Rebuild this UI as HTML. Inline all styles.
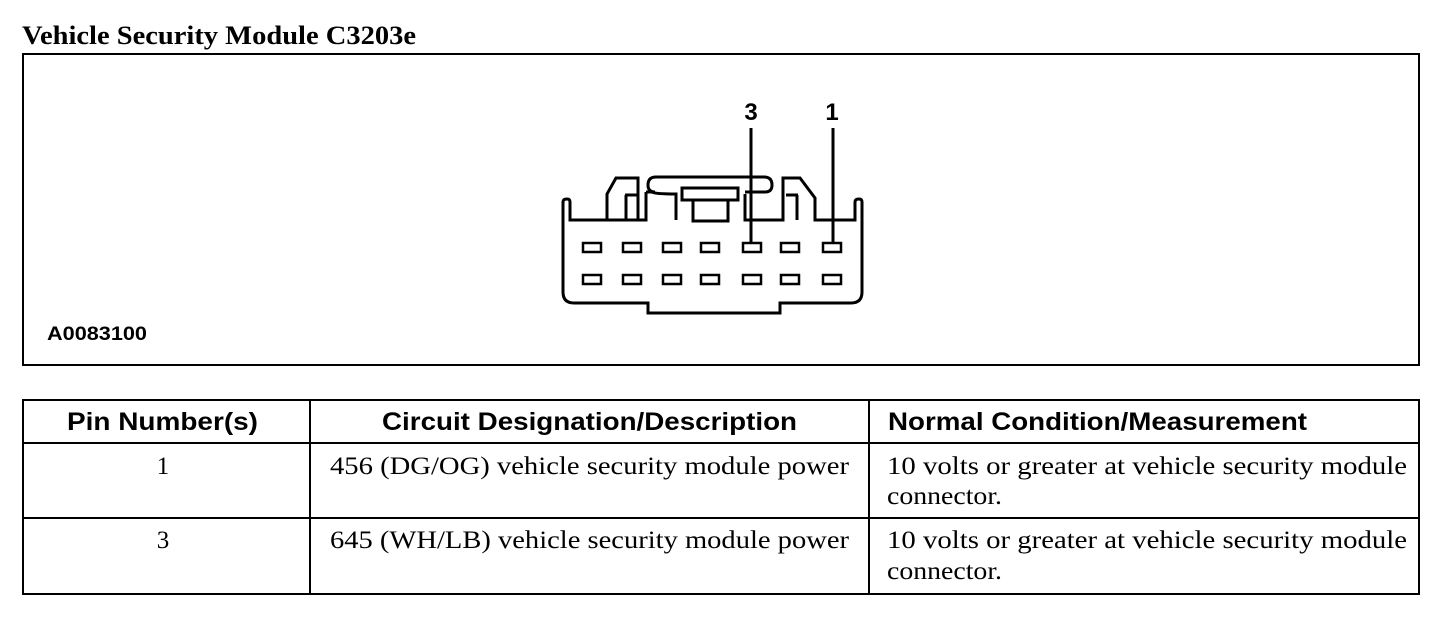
<!DOCTYPE html>
<html><head><style>
html,body{margin:0;padding:0;background:#fff;}
body{width:1456px;height:618px;overflow:hidden;position:relative;}
</style></head><body>
<svg width="1456" height="618" viewBox="0 0 1456 618" xmlns="http://www.w3.org/2000/svg" style="position:absolute;left:0;top:0">
<text x="22" y="44" font-family="Liberation Serif, serif" font-weight="bold" font-size="26" textLength="394" lengthAdjust="spacingAndGlyphs">Vehicle Security Module C3203e</text>
<rect x="23" y="54" width="1396" height="311" fill="none" stroke="#000" stroke-width="2"/>
<text x="47" y="340" font-family="Liberation Sans, sans-serif" font-weight="bold" font-size="19" textLength="100" lengthAdjust="spacingAndGlyphs">A0083100</text>
<g fill="none" stroke="#000" stroke-width="3">
<path d="M563,202 Q563,199 567,199 Q570,199 570,202 L570,220 L607,220 L607,194 L616,178 L638,178 L638,220 L646,220 L646,192"/>
<path d="M646,192 L655,192 Q648,192 648,185 Q648,177 656,177 L764,177 Q772,177 772,185 Q772,192 765,192 L745,192"/>
<path d="M652,192 Q655,194 676,194 L676,220"/>
<path d="M745,194 L745,220 L783,220 L783,178 L800,178 L815,198 L815,220 L855,220 L855,202 Q855,199 859,199 Q862,199 862,202 L862,292 Q862,303 851,303 L780,303 L780,313 L648,313 L648,303 L574,303 Q563,303 563,292 L563,202"/>
<line x1="625" y1="195" x2="637" y2="195"/><line x1="626" y1="195" x2="626" y2="220"/>
<line x1="786" y1="195" x2="798" y2="195"/><line x1="797" y1="195" x2="797" y2="220"/>
<rect x="682" y="188" width="56" height="12"/>
<rect x="693" y="200" width="35" height="21"/>
<line x1="608" y1="220" x2="646" y2="220"/>
</g>
<g fill="none" stroke="#000" stroke-width="2.5">
<rect x="583" y="243" width="18" height="9"/><rect x="623" y="243" width="18" height="9"/><rect x="663" y="243" width="18" height="9"/><rect x="701" y="243" width="18" height="9"/><rect x="743" y="243" width="18" height="9"/><rect x="781" y="243" width="18" height="9"/><rect x="823" y="243" width="18" height="9"/>
<rect x="583" y="275" width="18" height="9"/><rect x="623" y="275" width="18" height="9"/><rect x="663" y="275" width="18" height="9"/><rect x="701" y="275" width="18" height="9"/><rect x="743" y="275" width="18" height="9"/><rect x="781" y="275" width="18" height="9"/><rect x="823" y="275" width="18" height="9"/>
</g>
<g stroke="#000" stroke-width="3">
<line x1="751" y1="128" x2="751" y2="243"/>
<line x1="833" y1="128" x2="833" y2="243"/>
</g>
<text x="751" y="120" text-anchor="middle" font-family="Liberation Sans, sans-serif" font-weight="bold" font-size="24">3</text>
<text x="832" y="120" text-anchor="middle" font-family="Liberation Sans, sans-serif" font-weight="bold" font-size="24">1</text>

<g stroke="#000" stroke-width="2" fill="none">
<rect x="23" y="400" width="1396" height="194"/>
<line x1="23" y1="443" x2="1419" y2="443"/>
<line x1="23" y1="518" x2="1419" y2="518"/>
<line x1="310" y1="400" x2="310" y2="594"/>
<line x1="869" y1="400" x2="869" y2="594"/>
</g>
<g font-family="Liberation Sans, sans-serif" font-weight="bold" font-size="25" lengthAdjust="spacingAndGlyphs">
<text x="67" y="430" textLength="191" lengthAdjust="spacingAndGlyphs">Pin Number(s)</text>
<text x="382" y="430" textLength="415" lengthAdjust="spacingAndGlyphs">Circuit Designation/Description</text>
<text x="888" y="430" textLength="419" lengthAdjust="spacingAndGlyphs">Normal Condition/Measurement</text>
</g>
<g font-family="Liberation Serif, serif" font-size="25">
<text x="163" y="474" text-anchor="middle">1</text>
<text x="330" y="474" textLength="519" lengthAdjust="spacingAndGlyphs">456 (DG/OG) vehicle security module power</text>
<text x="887" y="474" textLength="520" lengthAdjust="spacingAndGlyphs">10 volts or greater at vehicle security module</text>
<text x="887" y="504" textLength="115" lengthAdjust="spacingAndGlyphs">connector.</text>
<text x="163" y="548" text-anchor="middle">3</text>
<text x="330" y="548" textLength="519" lengthAdjust="spacingAndGlyphs">645 (WH/LB) vehicle security module power</text>
<text x="887" y="548" textLength="520" lengthAdjust="spacingAndGlyphs">10 volts or greater at vehicle security module</text>
<text x="887" y="579" textLength="115" lengthAdjust="spacingAndGlyphs">connector.</text>
</g>
</svg>
</body></html>
